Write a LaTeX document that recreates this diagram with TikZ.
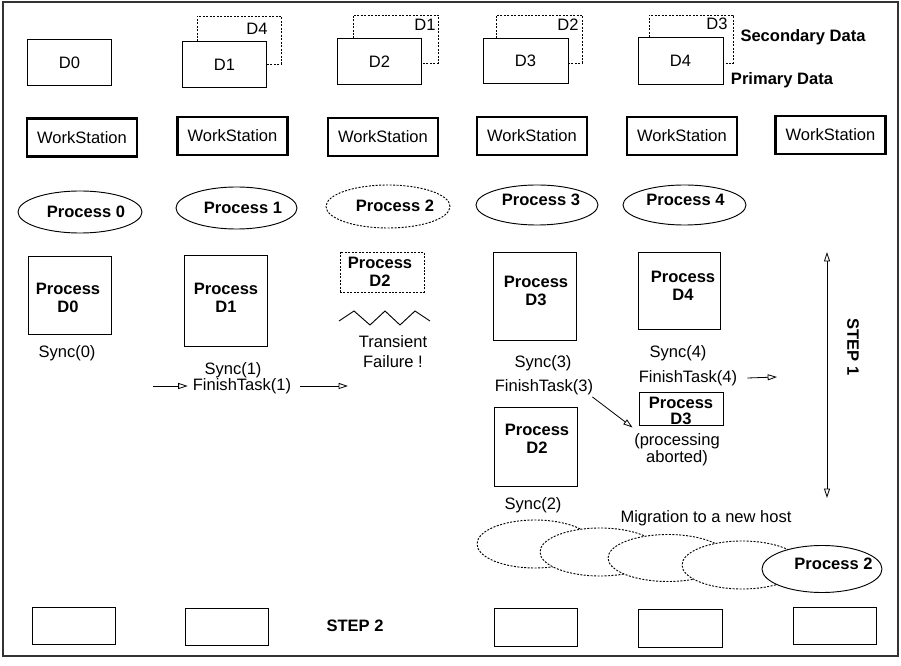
\documentclass[tikz,border=0pt]{standalone}
\usepackage{fontspec}
\setmainfont{Liberation Sans}
\usetikzlibrary{arrows.meta,shapes.geometric,calc}
\begin{document}
\begin{tikzpicture}[x=0.75pt,y=-0.75pt,
  every node/.style={font=\fontsize{12.4}{13.5}\selectfont, inner sep=0pt},
  sz/.style 2 args={minimum width=#1*0.75pt, minimum height=#2*0.75pt},
  box/.style={draw, line width=0.7pt},
  wbox/.style={draw, line width=1.6pt, minimum width=110*0.75pt, minimum height=38*0.75pt},
  dotb/.style={line width=0.7pt, dash pattern=on 1.5pt off 1.1pt},
  ell/.style={ellipse, draw, line width=0.7pt, fill=white},
  dell/.style={ellipse, draw, dotb, fill=white},
  bt/.style={font=\fontsize{12.4}{13.5}\selectfont\bfseries, align=center},
  txt/.style={align=center},
  tip/.tip={Triangle[open, length=7pt, width=4.5pt]},
  arr/.style={line width=0.6pt, -tip},
]
\useasboundingbox (0,0) rectangle (901,666);
\draw[line width=1.1pt, black!80] (3,2) rectangle (898,656);

% data boxes
\node[box, sz={84}{46}] (d0) at (69.5,62.5) {D0};
\node[box, sz={84}{46}] (d1) at (224.5,64.5) {D1};
\node[box, sz={84}{46}] (d2) at (379.5,61.5) {D2};
\node[box, sz={85}{45}] (d3) at (525.5,61) {D3};
\node[box, sz={85}{47}] (d4) at (680.5,60.5) {D4};
\draw[dotb] (197,41.5) -- (197,16) -- (281,16) -- (281,64) -- (266.5,64);
\draw[dotb] (353,38.5) -- (353,15) -- (438,15) -- (438,63) -- (421.5,63);
\draw[dotb] (496,38.5) -- (496,15) -- (582,15) -- (582,63) -- (568,63);
\draw[dotb] (649,37) -- (649,15) -- (733,15) -- (733,63) -- (723,63);
\node[txt] (s4) at (257,29) {D4};
\node[txt] (s1) at (425,25) {D1};
\node[txt] (s2) at (568,25) {D2};
\node[txt] (s3) at (717,24) {D3};
\node[bt] (secd) at (803,37) {Secondary Data};
\node[bt] (prid) at (782,80) {Primary Data};

% workstations
\node[wbox] (w0) at (82,137.5) {WorkStation};
\node[wbox] (w1) at (232.5,136) {WorkStation};
\node[wbox] (w2) at (383,137) {WorkStation};
\node[wbox] (w3) at (532,136) {WorkStation};
\node[wbox] (w4) at (682,136) {WorkStation};
\node[wbox] (w5) at (830.5,135) {WorkStation};

% processes
\node[ell, sz={124}{42}] (p0) at (80,212) {};
\node[ell, sz={121}{42}] (p1) at (236.5,208) {};
\node[dell, sz={124}{43}] (p2) at (388,206.5) {};
\node[ell, sz={122}{40}] (p3) at (537,205) {};
\node[ell, sz={123}{40}] (p4) at (684.5,205) {};
\node[bt] (p0t) at (86,212) {Process 0};
\node[bt] (p1t) at (243,208) {Process 1};
\node[bt] (p2t) at (395,206) {Process 2};
\node[bt] (p3t) at (541,200) {Process 3};
\node[bt] (p4t) at (685.5,200) {Process 4};

% process data boxes
\node[box, sz={83}{78}] (pd0) at (69.5,295) {};
\node[bt] (pd0t) at (68,297.5) {Process\\D0};
\node[box, sz={83}{91}] (pd1) at (225.5,300.5) {};
\node[bt] (pd1t) at (226,297.5) {Process\\D1};
\node[box, dotb, sz={84}{40}] (pd2) at (382,272) {};
\node[bt] (pd2t) at (380,271.5) {Process\\D2};
\node[box, sz={83}{88}] (pd3) at (534.5,296) {};
\node[bt] (pd3t) at (536,290.5) {Process\\D3};
\node[box, sz={82}{77}] (pd4) at (679,290.5) {};
\node[bt] (pd4t) at (683,286) {Process\\D4};
\node[box, sz={84}{33}] (pd3s) at (681,408.5) {};
\node[bt, font=\fontsize{12.4}{12}\selectfont\bfseries] (pd3st) at (681,411) {Process\\D3};
\node[box, sz={83}{79}] (pd2b) at (535.5,446.5) {};
\node[bt] (pd2bt) at (537,438.5) {Process\\D2};

% failure zigzag
\draw[line width=0.7pt] (339,321) -- (354,311) -- (370,325) -- (385,311) -- (400,325) -- (415,311) -- (430,321);
\node[txt, font=\fontsize{12.4}{15}\selectfont] (tf) at (393,352) {Transient\\Failure !};

% sync texts
\node[txt] (sy0) at (67,353) {Sync(0)};
\node[txt] (sy1) at (233,370) {Sync(1)};
\node[txt] (ft1) at (242,386) {FinishTask(1)};
\node[txt] (sy3) at (543,363) {Sync(3)};
\node[txt] (ft3) at (544,387) {FinishTask(3)};
\node[txt] (sy4) at (678,353) {Sync(4)};
\node[txt] (ft4) at (688,378) {FinishTask(4)};
\node[txt] (sy2) at (533,505) {Sync(2)};
\node[txt, font=\fontsize{12.4}{11.5}\selectfont] (abt) at (677,450) {(processing\\aborted)};

% arrows
\coordinate (a1s) at (153,386);
\coordinate (a2e) at (348,386);
\coordinate (a4e) at (777,377);
\draw[arr] (a1s) -- ($(ft1.west)+(-5,0)$);
\draw[arr] ($(ft1.east)+(9,0)$) -- (a2e);
\draw[arr] ($(ft4.east)+(10,0)$) -- (a4e);
\draw[arr] ($(ft3.south east)+(-1,2)$) -- ($(pd3s.south west)+(-6,2)$);

% step 1
\coordinate (s1t) at (827,252);
\coordinate (s1b) at (827,498);
\draw[line width=0.6pt, tip-tip] (s1t) -- (s1b);
\node[bt, rotate=-90] (step1) at (853,347) {STEP 1};

% migration
\node[dell, sz={116}{48}] (m1) at (535,544) {};
\node[dell, sz={120}{48}] (m2) at (600,552) {};
\node[dell, sz={120}{47}] (m3) at (668,558) {};
\node[dell, sz={120}{48}] (m4) at (742,565) {};
\node[ell, sz={120}{47}] (p2n) at (822,569) {};
\node[bt] (p2nt) at (833.5,564) {Process 2};
\node[txt] (mig) at (706,518) {Migration to a new host};

% step 2 boxes
\node[box, sz={83}{37}] (b0) at (73.5,626) {};
\node[box, sz={83}{37}] (b1) at (227,627) {};
\node[bt] (step2) at (355,626) {STEP 2};
\node[box, sz={83}{38}] (b3) at (535.5,627) {};
\node[box, sz={84}{38}] (b4) at (680,628) {};
\node[box, sz={83}{37}] (b5) at (834.5,625.5) {};
\end{tikzpicture}
\end{document}
